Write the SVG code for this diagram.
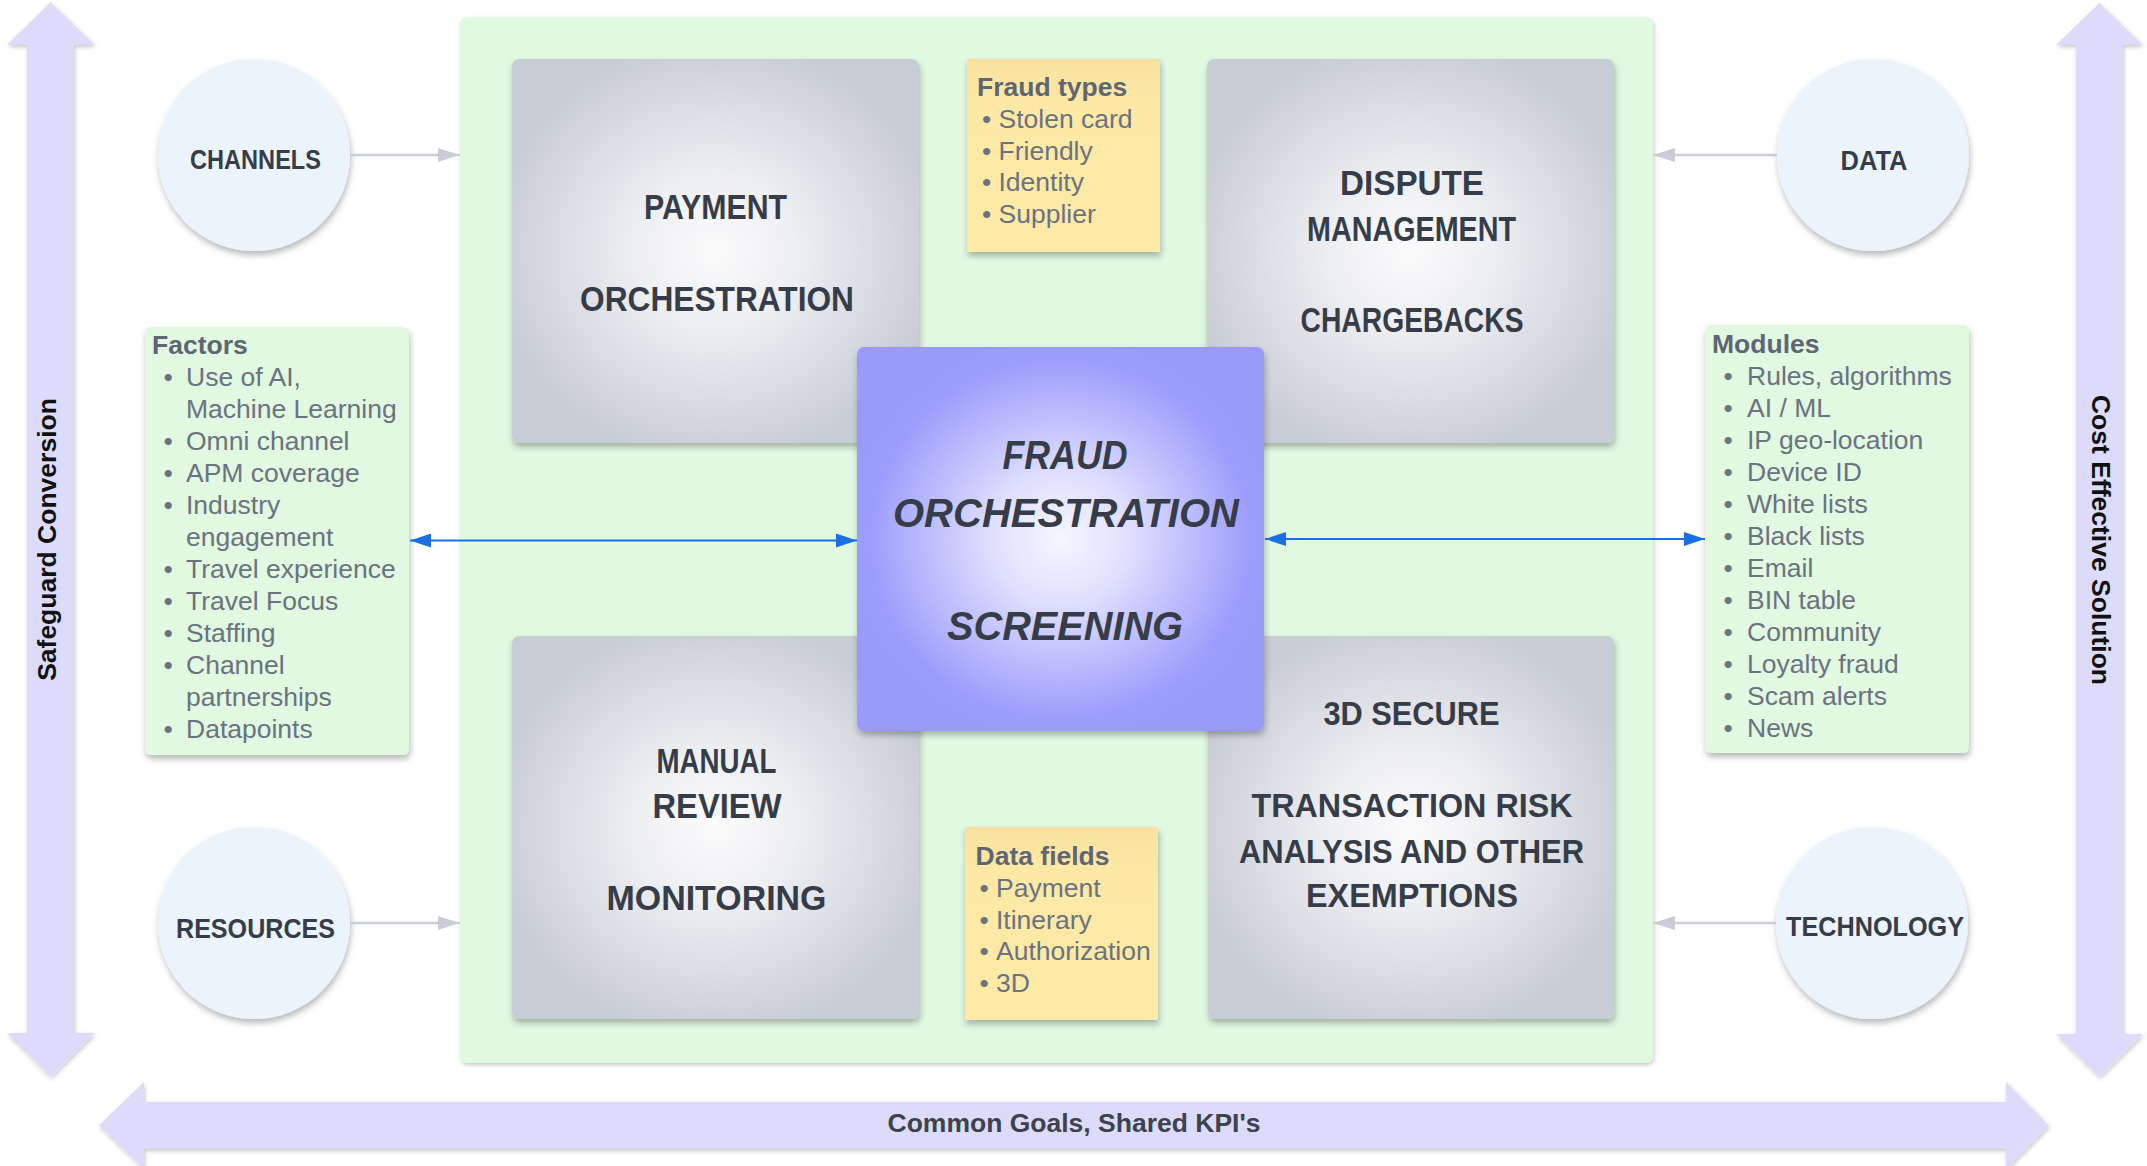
<svg xmlns="http://www.w3.org/2000/svg" width="2147" height="1166" viewBox="0 0 2147 1166">
<defs>
<style>
.big{fill:#dcdcfa}
.axis{font-family:"Liberation Sans",Arial,sans-serif;font-weight:bold;font-size:26.5px;fill:#111}
.goal{font-family:"Liberation Sans",Arial,sans-serif;font-weight:bold;font-size:26.5px;fill:#3d424d}
.cont{fill:#e1f8e1}
.gbox{fill:url(#gGray)}
.cbox{fill:url(#gBlue)}
.circ{fill:#ebf3fd}
.sticky{fill:url(#gYel)}
.note{fill:#e1f8e1}
.cm{font-family:"Liberation Sans",Arial,sans-serif;font-weight:bold;fill:#363d48;text-anchor:middle}
.cm35{font-size:35px}
.cm34{font-size:34px}
.cm40{font-size:40px;font-style:italic}
.cm28{font-size:28px}
.lst{font-family:"Liberation Sans",Arial,sans-serif;font-size:26.5px;fill:#6b7280}
.ttl{font-weight:bold;fill:#5f6673}
.gc{stroke:#c9cdd8;stroke-width:2.5;fill:none}
.bc{stroke:#1a70e2;stroke-width:2;fill:none}
</style>
<radialGradient id="gGray" cx="0.5" cy="0.5" r="0.55">
<stop offset="0" stop-color="#fbfbfc"/>
<stop offset="0.35" stop-color="#eeeff2"/>
<stop offset="1" stop-color="#c8ccd5"/>
</radialGradient>
<radialGradient id="gBlue" cx="0.5" cy="0.5" r="0.55">
<stop offset="0" stop-color="#f6f6ff"/>
<stop offset="0.3" stop-color="#e0e0fe"/>
<stop offset="0.85" stop-color="#9d9dfc"/>
<stop offset="1" stop-color="#9a9afb"/>
</radialGradient>
<linearGradient id="gYel" x1="0" y1="0" x2="0" y2="1">
<stop offset="0" stop-color="#f8e2a0"/>
<stop offset="0.25" stop-color="#fde9a6"/>
<stop offset="1" stop-color="#feeaa7"/>
</linearGradient>
<filter id="sh" x="-10%" y="-10%" width="125%" height="125%">
<feDropShadow dx="1" dy="4" stdDeviation="3" flood-color="#000" flood-opacity="0.28"/>
</filter>
<filter id="shs" x="-10%" y="-10%" width="125%" height="125%">
<feDropShadow dx="1" dy="2" stdDeviation="2" flood-color="#000" flood-opacity="0.22"/>
</filter>
<marker id="gh" viewBox="0 0 22 14" refX="22" refY="7" markerWidth="22" markerHeight="14" markerUnits="userSpaceOnUse" orient="auto">
<path d="M0,0 L22,7 L0,14 z" fill="#c9cdd8"/>
</marker>
<marker id="bh" viewBox="0 0 21 14" refX="21" refY="7" markerWidth="21" markerHeight="14" markerUnits="userSpaceOnUse" orient="auto-start-reverse">
<path d="M0,0 L21,7 L0,14 z" fill="#1a70e2"/>
</marker>
</defs>

<rect width="2147" height="1166" fill="#ffffff"/>

<g id="axis-left">
<polygon class="big" filter="url(#shs)" points="50.5,2 95,45 74,45 74,1033 95,1033 50.5,1077 7,1033 27,1033 27,45 7,45"/>
<text class="axis" text-anchor="middle" transform="translate(56,539.5) rotate(-90)">Safeguard Conversion</text>
</g>
<g id="axis-right">
<polygon class="big" filter="url(#shs)" points="2099.5,3 2143,45 2123,45 2123,1034 2143,1034 2099.5,1077 2056,1034 2076,1034 2076,45 2056,45"/>
<text class="axis" text-anchor="middle" transform="translate(2092,540) rotate(90)">Cost Effective Solution</text>
</g>
<g id="axis-bottom">
<polygon class="big" filter="url(#shs)" points="99,1125.5 144,1082 144,1102 2006,1102 2006,1082 2049,1125.5 2006,1169 2006,1149 144,1149 144,1169"/>
<text class="goal" x="1074" y="1132" text-anchor="middle">Common Goals, Shared KPI's</text>
</g>

<g id="container">
<rect class="cont" filter="url(#shs)" x="460" y="17" width="1193" height="1046" rx="7"/>
</g>

<g id="payment-orchestration">
<rect class="gbox" filter="url(#sh)" x="512" y="59" width="407" height="384" rx="7"/>
<text class="cm cm35" x="715.5" y="219" textLength="143" lengthAdjust="spacingAndGlyphs">PAYMENT</text>
<text class="cm cm35" x="717" y="311" textLength="274" lengthAdjust="spacingAndGlyphs">ORCHESTRATION</text>
</g>

<g id="dispute-management">
<rect class="gbox" filter="url(#sh)" x="1207" y="59" width="407" height="384" rx="7"/>
<text class="cm cm35" x="1412" y="195" textLength="144" lengthAdjust="spacingAndGlyphs">DISPUTE</text>
<text class="cm cm35" x="1411.5" y="241" textLength="209" lengthAdjust="spacingAndGlyphs">MANAGEMENT</text>
<text class="cm cm35" x="1412" y="332" textLength="223" lengthAdjust="spacingAndGlyphs">CHARGEBACKS</text>
</g>

<g id="manual-review">
<rect class="gbox" filter="url(#sh)" x="512" y="636" width="407" height="383" rx="7"/>
<text class="cm cm35" x="716.5" y="773" textLength="120" lengthAdjust="spacingAndGlyphs">MANUAL</text>
<text class="cm cm35" x="717" y="818" textLength="129" lengthAdjust="spacingAndGlyphs">REVIEW</text>
<text class="cm cm35" x="716.5" y="910" textLength="220" lengthAdjust="spacingAndGlyphs">MONITORING</text>
</g>

<g id="three-d-secure">
<rect class="gbox" filter="url(#sh)" x="1208" y="636" width="406" height="383" rx="7"/>
<text class="cm cm34" x="1411.5" y="725" textLength="176" lengthAdjust="spacingAndGlyphs">3D SECURE</text>
<text class="cm cm34" x="1412" y="817" textLength="321" lengthAdjust="spacingAndGlyphs">TRANSACTION RISK</text>
<text class="cm cm34" x="1411.5" y="863" textLength="345" lengthAdjust="spacingAndGlyphs">ANALYSIS AND OTHER</text>
<text class="cm cm34" x="1412" y="907" textLength="212" lengthAdjust="spacingAndGlyphs">EXEMPTIONS</text>
</g>

<g id="fraud-types">
<rect class="sticky" filter="url(#sh)" x="967" y="59" width="193" height="193"/>
<text class="lst">
<tspan class="ttl" x="977" y="96">Fraud types</tspan>
<tspan x="982" y="128">•</tspan><tspan x="998.5">Stolen card</tspan>
<tspan x="982" y="159.5">•</tspan><tspan x="998.5">Friendly</tspan>
<tspan x="982" y="191">•</tspan><tspan x="998.5">Identity</tspan>
<tspan x="982" y="223">•</tspan><tspan x="998.5">Supplier</tspan>
</text>
</g>

<g id="data-fields">
<rect class="sticky" filter="url(#sh)" x="965" y="827" width="193" height="193"/>
<text class="lst">
<tspan class="ttl" x="975.5" y="865">Data fields</tspan>
<tspan x="979.5" y="897">•</tspan><tspan x="996">Payment</tspan>
<tspan x="979.5" y="928.5">•</tspan><tspan x="996">Itinerary</tspan>
<tspan x="979.5" y="960">•</tspan><tspan x="996">Authorization</tspan>
<tspan x="979.5" y="992">•</tspan><tspan x="996">3D</tspan>
</text>
</g>

<g id="fraud-orchestration">
<rect class="cbox" filter="url(#sh)" x="857" y="347" width="407" height="384" rx="7"/>
<text class="cm cm40" x="1065" y="469" textLength="125" lengthAdjust="spacingAndGlyphs">FRAUD</text>
<text class="cm cm40" x="1066" y="527" textLength="346" lengthAdjust="spacingAndGlyphs">ORCHESTRATION</text>
<text class="cm cm40" x="1065" y="640" textLength="236" lengthAdjust="spacingAndGlyphs">SCREENING</text>
</g>

<g id="channels">
<circle class="circ" filter="url(#sh)" cx="254" cy="155" r="96"/>
<text class="cm cm28" x="255.5" y="169" textLength="131" lengthAdjust="spacingAndGlyphs">CHANNELS</text>
</g>
<g id="data">
<circle class="circ" filter="url(#sh)" cx="1873" cy="155" r="96"/>
<text class="cm cm28" x="1874" y="170" textLength="67" lengthAdjust="spacingAndGlyphs">DATA</text>
</g>
<g id="resources">
<circle class="circ" filter="url(#sh)" cx="254" cy="923" r="96"/>
<text class="cm cm28" x="255.5" y="938" textLength="159" lengthAdjust="spacingAndGlyphs">RESOURCES</text>
</g>
<g id="technology">
<circle class="circ" filter="url(#sh)" cx="1872" cy="923" r="96"/>
<text class="cm cm28" x="1875" y="936" textLength="178" lengthAdjust="spacingAndGlyphs">TECHNOLOGY</text>
</g>

<g id="factors">
<rect class="note" filter="url(#sh)" x="145" y="327" width="264" height="428" rx="6"/>
<text class="lst">
<tspan class="ttl" x="152" y="354">Factors</tspan>
<tspan x="163.5" y="386">•</tspan><tspan x="186">Use of AI,</tspan>
<tspan x="186" y="418">Machine Learning</tspan>
<tspan x="163.5" y="450">•</tspan><tspan x="186">Omni channel</tspan>
<tspan x="163.5" y="482">•</tspan><tspan x="186">APM coverage</tspan>
<tspan x="163.5" y="514">•</tspan><tspan x="186">Industry</tspan>
<tspan x="186" y="546">engagement</tspan>
<tspan x="163.5" y="578">•</tspan><tspan x="186">Travel experience</tspan>
<tspan x="163.5" y="610">•</tspan><tspan x="186">Travel Focus</tspan>
<tspan x="163.5" y="642">•</tspan><tspan x="186">Staffing</tspan>
<tspan x="163.5" y="674">•</tspan><tspan x="186">Channel</tspan>
<tspan x="186" y="706">partnerships</tspan>
<tspan x="163.5" y="738">•</tspan><tspan x="186">Datapoints</tspan>
</text>
</g>

<g id="modules">
<rect class="note" filter="url(#sh)" x="1705" y="325" width="264" height="428" rx="6"/>
<text class="lst">
<tspan class="ttl" x="1712" y="353">Modules</tspan>
<tspan x="1723.5" y="385">•</tspan><tspan x="1747">Rules, algorithms</tspan>
<tspan x="1723.5" y="417">•</tspan><tspan x="1747">AI / ML</tspan>
<tspan x="1723.5" y="449">•</tspan><tspan x="1747">IP geo-location</tspan>
<tspan x="1723.5" y="481">•</tspan><tspan x="1747">Device ID</tspan>
<tspan x="1723.5" y="513">•</tspan><tspan x="1747">White lists</tspan>
<tspan x="1723.5" y="545">•</tspan><tspan x="1747">Black lists</tspan>
<tspan x="1723.5" y="577">•</tspan><tspan x="1747">Email</tspan>
<tspan x="1723.5" y="609">•</tspan><tspan x="1747">BIN table</tspan>
<tspan x="1723.5" y="641">•</tspan><tspan x="1747">Community</tspan>
<tspan x="1723.5" y="673">•</tspan><tspan x="1747">Loyalty fraud</tspan>
<tspan x="1723.5" y="705">•</tspan><tspan x="1747">Scam alerts</tspan>
<tspan x="1723.5" y="737">•</tspan><tspan x="1747">News</tspan>
</text>
</g>

<g id="connectors">
<line class="gc" x1="350" y1="155" x2="460" y2="155" marker-end="url(#gh)"/>
<line class="gc" x1="1777" y1="155" x2="1653" y2="155" marker-end="url(#gh)"/>
<line class="gc" x1="350" y1="923" x2="460" y2="923" marker-end="url(#gh)"/>
<line class="gc" x1="1776" y1="923" x2="1653" y2="923" marker-end="url(#gh)"/>
<line class="bc" x1="410" y1="540.5" x2="857" y2="540.5" marker-start="url(#bh)" marker-end="url(#bh)"/>
<line class="bc" x1="1265" y1="539" x2="1705" y2="539" marker-start="url(#bh)" marker-end="url(#bh)"/>
</g>
</svg>
